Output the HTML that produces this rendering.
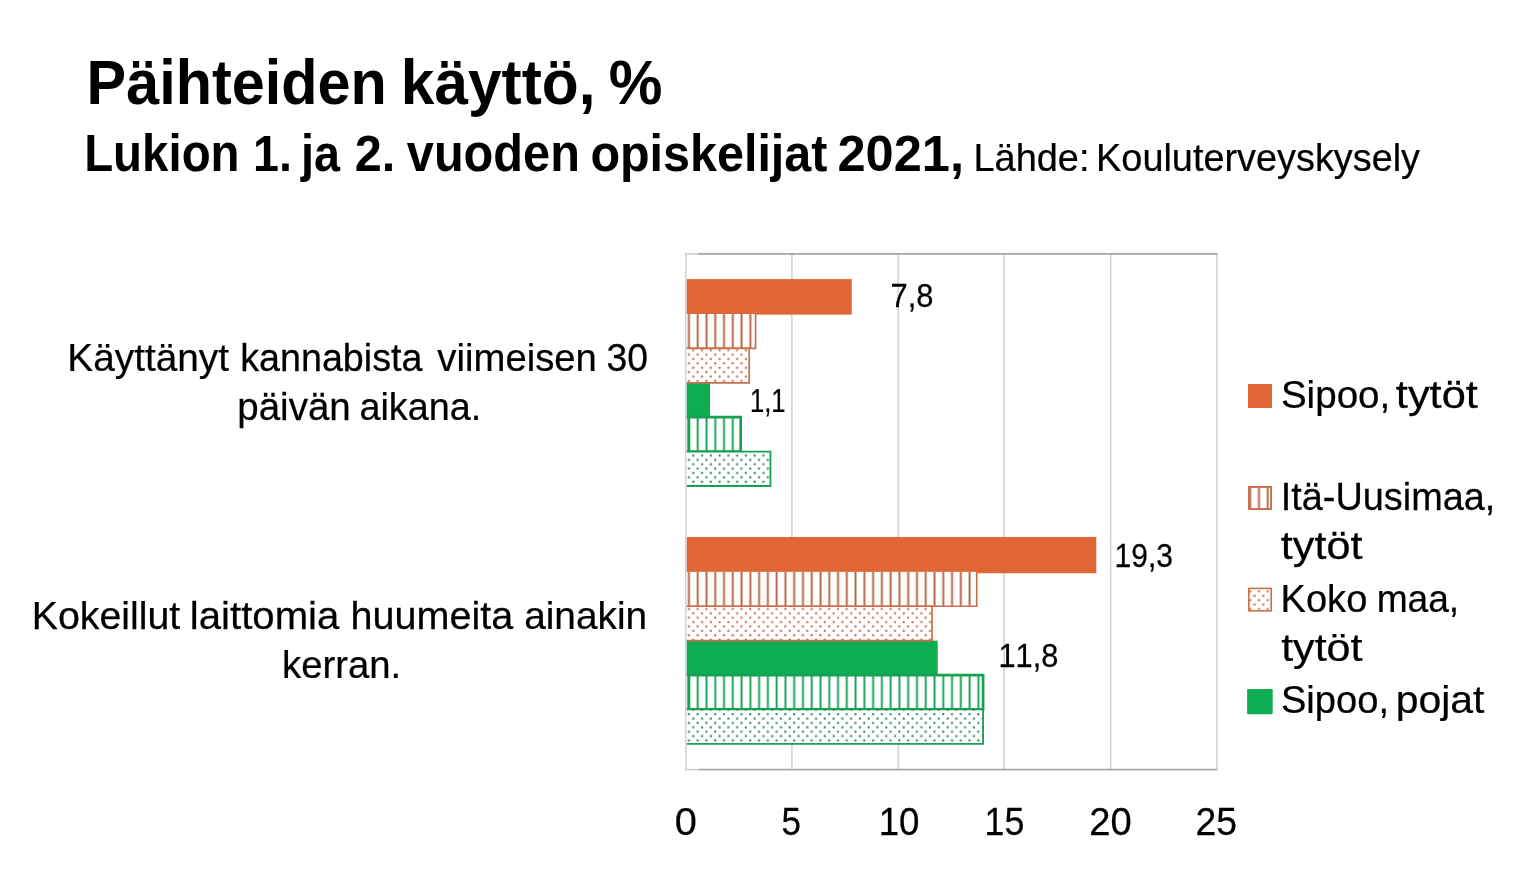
<!DOCTYPE html>
<html lang="fi">
<head>
<meta charset="utf-8">
<title>Päihteiden käyttö, %</title>
<style>
html,body{margin:0;padding:0;background:#fff}
body{width:1536px;height:886px;overflow:hidden}
svg{display:block}
svg text{font-family:"Liberation Sans",sans-serif;font-kerning:none;white-space:pre}
svg text.r{stroke:#000;stroke-width:.25px}
</style>
</head>
<body>
<svg width="1536" height="886" viewBox="0 0 1536 886">
<rect width="1536" height="886" fill="#fff"/>
<defs>
<pattern id="so" patternUnits="userSpaceOnUse" x="684.50" y="350.20" width="8.77" height="8.77"><rect x="3.5" y="0" width="1.9" height="8.77" fill="#b5623f"/></pattern>
<pattern id="sg" patternUnits="userSpaceOnUse" x="684.50" y="350.20" width="8.77" height="8.77"><rect x="3.5" y="0" width="1.9" height="8.77" fill="#149f52"/></pattern>
<pattern id="do" patternUnits="userSpaceOnUse" x="686.70" y="352.40" width="8.77" height="8.77"><rect x="1.20" y="1.20" width="2" height="2" fill="#b86848"/><rect x="5.58" y="5.58" width="2" height="2" fill="#b86848"/></pattern>
<pattern id="dg" patternUnits="userSpaceOnUse" x="686.70" y="352.40" width="8.77" height="8.77"><rect x="1.20" y="1.20" width="2" height="2" fill="#2a7f55"/><rect x="5.58" y="5.58" width="2" height="2" fill="#2a7f55"/></pattern>
</defs>
<rect x="791.10" y="253.90" width="1.6" height="515.70" fill="#d2d2d2"/>
<rect x="897.50" y="253.90" width="1.6" height="515.70" fill="#d2d2d2"/>
<rect x="1003.40" y="253.90" width="1.6" height="515.70" fill="#d2d2d2"/>
<rect x="1109.90" y="253.90" width="1.6" height="515.70" fill="#d2d2d2"/>
<rect x="685.15" y="253.10" width="1.5" height="517.30" fill="#cfcfcf"/>
<rect x="1216.25" y="253.10" width="1.5" height="517.30" fill="#cfcfcf"/>
<rect x="685.90" y="253.10" width="13.00" height="1.6" fill="#cfcfcf"/>
<rect x="685.90" y="768.80" width="13.00" height="1.6" fill="#cfcfcf"/>
<rect x="698.40" y="253.05" width="518.60" height="1.7" fill="#a3a3a3"/>
<rect x="698.40" y="768.75" width="518.60" height="1.7" fill="#a8a8a8"/>
<rect x="686.80" y="279.10" width="164.96" height="35.50" fill="#e06636"/>
<rect x="686.80" y="382.80" width="23.20" height="34.90" fill="#0dae51"/>
<rect x="686.80" y="536.95" width="409.50" height="36.30" fill="#e06636"/>
<rect x="686.80" y="640.65" width="250.90" height="34.90" fill="#0dae51"/>
<rect x="686.80" y="314.00" width="68.77" height="34.40" fill="#fff"/>
<rect x="686.80" y="314.00" width="68.77" height="34.40" fill="url(#so)"/>
<path d="M755.57 314.00V348.40H686.80" fill="none" stroke="#cc6f49" stroke-width="1.70"/>
<rect x="686.80" y="348.40" width="62.39" height="34.40" fill="#fff"/>
<rect x="686.80" y="348.40" width="62.39" height="34.40" fill="url(#do)"/>
<path d="M686.80 348.40H749.19V382.80H686.80" fill="none" stroke="#cc6f49" stroke-width="1.70"/>
<rect x="686.80" y="417.20" width="53.89" height="34.40" fill="#fff"/>
<rect x="686.80" y="417.20" width="53.89" height="34.40" fill="url(#sg)"/>
<path d="M686.80 417.20H740.69V451.60H686.80M688.75 417.20V451.60" fill="none" stroke="#17a152" stroke-width="2.70"/>
<rect x="686.80" y="451.60" width="83.66" height="34.40" fill="#fff"/>
<rect x="686.80" y="451.60" width="83.66" height="34.40" fill="url(#dg)"/>
<path d="M686.80 451.60H770.46V486.00H686.80" fill="none" stroke="#17a152" stroke-width="1.80"/>
<rect x="686.80" y="571.85" width="289.92" height="34.40" fill="#fff"/>
<rect x="686.80" y="571.85" width="289.92" height="34.40" fill="url(#so)"/>
<path d="M976.72 571.85V606.25H686.80" fill="none" stroke="#cc6f49" stroke-width="1.70"/>
<rect x="686.80" y="606.25" width="245.26" height="34.40" fill="#fff"/>
<rect x="686.80" y="606.25" width="245.26" height="34.40" fill="url(#do)"/>
<path d="M686.80 606.25H932.06V640.65H686.80" fill="none" stroke="#cc6f49" stroke-width="1.70"/>
<rect x="686.80" y="675.05" width="296.30" height="34.40" fill="#fff"/>
<rect x="686.80" y="675.05" width="296.30" height="34.40" fill="url(#sg)"/>
<path d="M686.80 675.05H983.10V709.45H686.80M688.75 675.05V709.45" fill="none" stroke="#17a152" stroke-width="2.70"/>
<rect x="686.80" y="709.45" width="296.30" height="34.40" fill="#fff"/>
<rect x="686.80" y="709.45" width="296.30" height="34.40" fill="url(#dg)"/>
<path d="M686.80 709.45H983.10V743.85H686.80" fill="none" stroke="#17a152" stroke-width="1.80"/>
<g>
<text transform="matrix(0.9425 0 0 1 86.53 103.50)" font-size="63.00" font-weight="700" fill="#000">Päihteiden </text>
<text transform="matrix(0.9591 0 0 1 400.78 103.50)" font-size="63.00" font-weight="700" fill="#000">käyttö, </text>
<text transform="matrix(0.9586 0 0 1 608.70 103.50)" font-size="63.00" font-weight="700" fill="#000">%</text>
</g>
<g>
<text transform="matrix(0.9196 0 0 1 84.13 171.00)" font-size="51.60" font-weight="700" fill="#000">Lukion </text>
<text transform="matrix(0.9465 0 0 1 253.06 171.00)" font-size="49.28" font-weight="700" fill="#000">1. </text>
<text transform="matrix(0.9056 0 0 1 300.93 171.00)" font-size="51.60" font-weight="700" fill="#000">ja </text>
<text transform="matrix(0.9862 0 0 1 354.82 171.00)" font-size="49.28" font-weight="700" fill="#000">2. </text>
<text transform="matrix(0.9435 0 0 1 406.81 171.00)" font-size="51.60" font-weight="700" fill="#000">vuoden </text>
<text transform="matrix(0.9395 0 0 1 590.41 171.00)" font-size="51.60" font-weight="700" fill="#000">opiskelijat </text>
<text transform="matrix(1.0261 0 0 1 837.45 171.00)" font-size="49.28" font-weight="700" fill="#000">2021, </text>
<text transform="matrix(0.9624 0 0 1 973.49 171.00)" font-size="39.40" class="r" fill="#000">Lähde: </text>
<text transform="matrix(0.9610 0 0 1 1096.09 171.00)" font-size="39.40" class="r" fill="#000">Kouluterveyskysely</text>
</g>
<g>
<text transform="matrix(0.9796 0 0 1 67.32 370.60)" font-size="39.60" class="r" fill="#000">Käyttänyt </text>
<text transform="matrix(0.9520 0 0 1 240.16 370.60)" font-size="39.60" class="r" fill="#000">kannabista </text>
<text transform="matrix(0.9665 0 0 1 437.37 370.60)" font-size="39.60" class="r" fill="#000">viimeisen </text>
<text transform="matrix(0.9748 0 0 1 606.48 370.60)" font-size="38.25" class="r" fill="#000">30 </text>
<text transform="matrix(0.9734 0 0 1 237.22 419.50)" font-size="39.60" class="r" fill="#000">päivän </text>
<text transform="matrix(0.9535 0 0 1 359.40 419.50)" font-size="39.60" class="r" fill="#000">aikana.</text>
</g>
<g>
<text transform="matrix(0.9922 0 0 1 31.78 628.60)" font-size="39.60" class="r" fill="#000">Kokeillut </text>
<text transform="matrix(1.0146 0 0 1 189.79 628.60)" font-size="39.60" class="r" fill="#000">laittomia </text>
<text transform="matrix(0.9990 0 0 1 350.56 628.60)" font-size="39.60" class="r" fill="#000">huumeita </text>
<text transform="matrix(0.9799 0 0 1 524.15 628.60)" font-size="39.60" class="r" fill="#000">ainakin </text>
<text transform="matrix(0.9670 0 0 1 282.02 677.50)" font-size="39.60" class="r" fill="#000">kerran.</text>
</g>
<g>
<text transform="matrix(1.0270 0 0 1 674.65 834.55)" font-size="38.70" class="r" fill="#000">0 </text>
<text transform="matrix(0.9047 0 0 1 781.60 834.55)" font-size="38.70" class="r" fill="#000">5 </text>
<text transform="matrix(0.9485 0 0 1 878.70 834.55)" font-size="38.70" class="r" fill="#000">10 </text>
<text transform="matrix(0.9253 0 0 1 984.57 834.55)" font-size="38.70" class="r" fill="#000">15 </text>
<text transform="matrix(0.9864 0 0 1 1089.33 834.55)" font-size="38.70" class="r" fill="#000">20 </text>
<text transform="matrix(0.9652 0 0 1 1195.42 834.55)" font-size="38.70" class="r" fill="#000">25 </text>
</g>
<g>
<text transform="matrix(0.9431 0 0 1 890.52 306.60)" font-size="32.70" class="r" fill="#000">7,8 </text>
<text transform="matrix(0.7844 0 0 1 749.90 411.90)" font-size="32.70" class="r" fill="#000">1,1 </text>
<text transform="matrix(0.9185 0 0 1 1114.56 566.90)" font-size="32.70" class="r" fill="#000">19,3 </text>
<text transform="matrix(0.9409 0 0 1 998.46 667.25)" font-size="32.70" class="r" fill="#000">11,8</text>
</g>
<rect x="1248.00" y="384.00" width="24.00" height="24.00" fill="#e06636"/>
<rect x="1248.95" y="486.95" width="22.10" height="22.10" fill="url(#so)" stroke="#cc6f49" stroke-width="1.9"/>
<rect x="1248.80" y="588.40" width="22.40" height="22.40" fill="url(#do)" stroke="#cc6f49" stroke-width="1.6"/>
<rect x="1247.10" y="689.00" width="25.60" height="25.20" rx="1.2" fill="#0dae51"/>
<g>
<text transform="matrix(0.9740 0 0 1 1280.90 408.20)" font-size="39.60" class="r" fill="#000">Sipoo, </text>
<text transform="matrix(1.0968 0 0 1 1395.84 408.20)" font-size="39.60" class="r" fill="#000">tytöt </text>
<text transform="matrix(0.9565 0 0 1 1280.70 509.80)" font-size="39.60" class="r" fill="#000">Itä-Uusimaa, </text>
<text transform="matrix(1.0901 0 0 1 1280.85 559.40)" font-size="39.60" class="r" fill="#000">tytöt </text>
<text transform="matrix(0.9608 0 0 1 1280.58 611.80)" font-size="39.60" class="r" fill="#000">Koko </text>
<text transform="matrix(0.9383 0 0 1 1376.63 611.80)" font-size="39.60" class="r" fill="#000">maa, </text>
<text transform="matrix(1.0874 0 0 1 1281.15 661.10)" font-size="39.60" class="r" fill="#000">tytöt </text>
<text transform="matrix(0.9628 0 0 1 1280.92 713.40)" font-size="39.60" class="r" fill="#000">Sipoo, </text>
<text transform="matrix(1.0334 0 0 1 1395.66 713.40)" font-size="39.60" class="r" fill="#000">pojat</text>
</g>
</svg>
</body>
</html>
